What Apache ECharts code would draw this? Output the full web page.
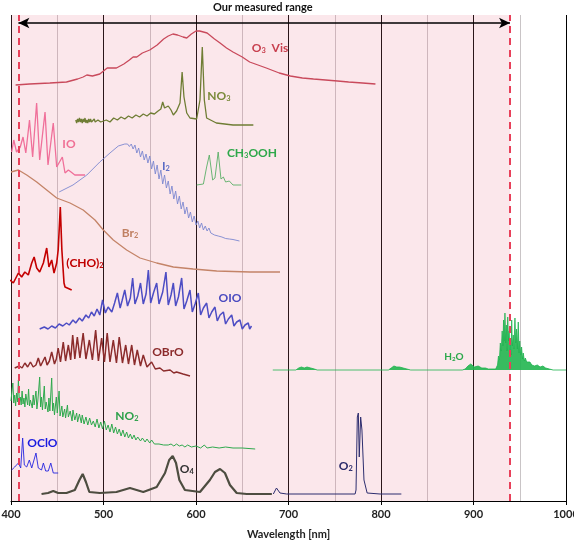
<!DOCTYPE html>
<html>
<head>
<meta charset="utf-8">
<script src="https://cdn.jsdelivr.net/npm/echarts@6/dist/echarts.min.js"></script>
<style>
  html, body { margin: 0; padding: 0; background: #fff; }
  #chart { width: 574px; height: 540px; }
</style>
</head>
<body>
<div id="chart"></div>
<script>
// wavelength ticks (nm) and the measured range
const xTicks = [400, 500, 600, 700, 800, 900, 1000];
const measuredRange = [408, 939.5];

// spectra, [wavelength nm, offset cross-section (a.u.)]
const o3Vis = [[405,416],[420,417],[442,418],[460,419],[472,422],[478,424],[482,426],[488,425],[496,427],[500,430],[504,433],[510,433],[514,433],[522,437],[528,441],[532,444],[536,444],[542,448],[550,451],[558,456],[565,462],[570,465],[575,467],[580,466],[586,464],[590,463],[595,467],[600,470],[604,470],[608,469],[612,468],[620,462],[626,458],[633,453],[640,449],[650,444],[658,439],[667,436],[676,433],[690,428],[702,425],[715,423],[727,422],[740,421],[753,420],[765,419],[780,418],[794,417]];
const no3 = [[470,381],[471,378],[472,382],[473,379],[474,383],[475,379],[476,382],[477,378],[478,382],[479,379],[480,383],[481,378],[482,381],[483,378],[484,382],[485,379],[486,382],[487,379],[488,381],[489,378],[490,382],[491,379],[492,381],[493,378],[494,381],[495,379],[496,381],[497,379],[499,380],[503,381],[507,379],[511,383],[515,381],[519,384],[523,382],[527,385],[531,383],[535,386],[539,384],[543,387],[547,385],[551,388],[555,387],[559,390],[562,392],[564,399],[566,393],[567.5,391],[570,395],[573,391],[575.5,386],[579,390],[582.7,398],[585,429],[587,404],[590,388],[593.5,383],[600.7,382],[604.3,401],[606.8,454],[609,401],[611.5,383],[622,378],[640,376],[662,376]];
const io = [[400.7,349],[403,361],[406,349],[410,354],[413,364],[416,348],[420,381],[423.4,344],[427.7,398],[431,341],[436.8,389],[440,336],[445.7,378],[449.4,334],[455.5,344],[458.4,328],[462,331],[464.9,329],[469,326],[480,326]];
const i2 = [[452,309],[467,316],[482,326],[496,339],[507,348],[516,355],[523,357],[526,357],[528,354.5],[530,357],[532,352],[534,356],[536,348],[538,353],[540,344],[542,350],[544,341],[546,347],[548,338],[550,345],[552,332],[554,340],[556,327],[558,336],[560,322],[562,331],[564,317],[566,326],[568,313],[570,320],[572,307],[574,315],[576,302],[578,310],[580,297],[582,305],[584,292],[586,299],[588,287],[590,294],[592,283],[594,289],[596,279],[598,285],[600,276],[602,280],[604,273],[606,278],[608,271],[610,275],[612,270],[614,273],[616,268],[618,270],[620,266],[622,268],[624,265],[626,266.5],[628,264],[630,265],[632,262.5],[634,263.5],[636,262],[640,261.5],[647,260]];
const ch3ooh = [[600.7,316],[608,317],[611.5,334],[614.4,346],[618,321],[620.5,323],[624,349],[627,322],[629.6,324],[632,319],[636,320],[640,316],[649,316]];
const br2 = [[400,329],[408,331],[417,326],[427.8,319],[438.6,311],[449.4,303],[463.8,298],[478,291],[490.8,281],[499.8,271],[510.6,261],[525,251],[539.5,243],[557.5,238],[575.5,234],[597,232],[622.4,230],[658.4,229],[690.8,229]];
const cho2 = [[399,221],[402.5,218],[408,228],[411.5,224],[415,229],[418.7,226],[422.4,238],[425,244],[427.8,233],[431,229],[435,238],[438.6,253],[441,234],[444,241],[446.5,228],[449.4,238],[451,251],[453.3,294],[455,251],[457.3,218],[458.4,214],[465.6,211]];
const oio = [[431,172],[436,174],[440,172],[444,175],[448,173],[452,177],[456,175],[460,178],[463,176],[467,181],[470,178],[474,183],[477,180],[481,186],[484,183],[487,189],[490,185],[493,192],[496,186],[499,201],[502,188],[505,194],[507,196],[509,189],[512,198],[515,208],[518,193],[520,200],[523,211],[526,195],[529,203],[531.5,223],[534,197],[537,205],[540,218],[543,197],[546,207],[548.5,231],[551,198],[554,208],[557.5,218],[560,197],[564,209],[567.5,229],[570,196],[573,206],[575.5,218],[578,195],[581,204],[584.5,223],[587,192],[590,200],[593.5,211],[596,189],[599,197],[602.5,208],[605,186],[608,193],[611.5,198],[614,183],[617,189],[620.5,194],[623,180],[626,186],[629.6,189],[632,177],[635,182],[638.6,186],[641,175],[644,179],[647.5,181],[650,172],[653,176],[656.5,178],[658,172],[660,175]];
const obro = [[404,133],[409,135],[412,133],[415,138],[418,134],[421,139],[424,134],[427,136],[429.5,143],[432,135],[434,137],[436.8,144],[439,136],[441.5,140],[444,149],[447,137],[449,142],[451,153],[453.5,139],[456.5,159],[459,140],[462,156],[464.5,141],[466.7,166],[469,142],[471.7,164],[474.5,143],[478,168],[481,142],[484.7,161],[488,141],[491.5,171],[494.5,140],[498,163],[501,139],[504,168],[507,139],[510.6,161],[514,138],[517,164],[520.5,138],[524,156],[527,137],[530.5,156],[533.5,136],[536.5,151],[540,135],[543,146],[547,134],[552,139],[556,132],[561,133],[565,130],[572,131],[576,128],[579,129],[586,127],[593.5,125]];
const no2 = [[400,100],[401,110],[402,118],[403,98],[404,106],[405,95],[406,108],[407,99],[408,121],[409,100],[410,104],[411,96],[412,110],[413,97],[414,103],[415,94],[416,107],[418,96],[419,112],[420,95],[421,101],[423,93],[424,106],[425,96],[427,110],[428,92],[429,100],[431,124],[432,94],[433,104],[434,91],[436,115],[437,92],[438,99],[440,89],[441,103],[442,90],[444,123],[445,90],[446,98],[447,86],[449,104],[450,88],[452,110],[453,85],[455,95],[456,84],[458,92],[459,83],[461,96],[462,84],[464,90],[466,80],[467,91],[469,81],[471,88],[472,79],[474,87],[476,78],[477,86],[479,77],[481,84],[483,76],[485,83],[487,76],[489,80],[491,74],[493,82],[495,73],[497,79],[499,72],[501,80],[503,71],[505,76],[507,69],[509,77],[511,68],[513,74],[515,67],[517,72],[519,65],[521,71],[523,64],[525,69],[527,63],[529,67],[531,62],[533,66],[535,61],[537,64],[540,60],[542,63],[545,59],[547,62],[550,58],[552,61],[555,57],[557,59],[560,57],[562,59],[565,56],[567,58],[570,56],[573,57],[576,55],[579,57],[582,55],[585,56],[588,54],[591,56],[595,54],[600,55],[605,53],[609,56],[612,53],[618,54],[625,53],[632,54],[640,53],[650,53],[664,52]];
const oclo = [[400.7,31],[404,34],[408,38],[410.5,33],[412.6,63],[414.4,36],[417,34],[419.8,41],[422.4,33],[427,48],[429.5,33],[433,31],[435,38],[437.5,30],[440.3,30],[443,38],[445.7,28],[451,28]];
const o4 = [[433,7],[440,8],[445.7,10],[451,8],[460,8],[469,11],[474,21],[477.5,27],[481,19],[484.7,9],[496,8],[514,9],[528.6,13],[543,9],[557.5,14],[566.5,28],[571,41],[574.8,45],[578.4,38],[582,21],[588,11],[604.3,9],[615,21],[620.5,29],[626,32],[631.3,28],[636.7,16],[644,8],[654.8,7],[682,7]];
const o2 = [[683.6,7],[687,13],[690.8,8],[698,7],[772,7],[773,11],[774.4,84],[775.5,88],[776.5,44],[778,84],[779.4,71],[781.6,21],[785,8],[799,7],[822,7]];
const h2o = [[683,131],[700,131],[708,131],[711,133],[714,134],[717,133],[720,134],[724,133],[728,132],[731,131],[800,131],[808,131],[811,133],[814,135],[817,134],[820,134],[824,133],[828,132],[832,131],[888,131],[891,132],[894,135],[897,137],[899,138],[901,134],[903,133],[905,135],[907,134],[909,133],[911,134],[913,133],[916,132],[920,132],[924,132],[926,136],[927,145],[928,141],[929,158],[930,150],[931,170],[931.8,155],[932.5,181],[933.2,160],[934,188],[934.8,158],[935.5,176],[936.2,150],[937,184],[937.8,160],[938.5,170],[939.3,148],[940,158],[940.7,146],[941.3,181],[942,155],[943,166],[943.8,152],[944.8,183],[945.6,158],[946.6,172],[947.4,152],[948.4,179],[949.3,148],[950,160],[951,146],[952,154],[953,142],[953.8,148],[955,140],[956,143],[957.5,139],[959,137],[961,139],[963,136],[966,135],[969,136],[972,134],[975,135],[978,133],[982,132],[986,131],[1000,131]];

const font = 'Lato, "Open Sans", sans-serif';

// species label: [text, subscript, rest], placed at a data coordinate
function tag(coord, color, parts, size) {
  size = size || 12;
  let fmt = '{a|' + parts[0] + '}';
  if (parts[1]) fmt += '{s|' + parts[1] + '}';
  if (parts[2]) fmt += '{a|' + parts[2] + '}';
  return {
    symbol: 'circle',
    symbolSize: 1,
    itemStyle: { color: 'transparent' },
    label: {
      show: true,
      position: 'inside',
      formatter: fmt,
      rich: {
        a: { fontFamily: font, fontWeight: 'bold', fontSize: size, color: color },
        s: { fontFamily: font, fontWeight: 'bold', fontSize: size * 0.62, color: color, padding: [size * 0.5, 0, 0, 0] }
      }
    },
    data: [{ coord: coord }]
  };
}

function spec(name, data, color, width, label) {
  return {
    name: name,
    type: 'line',
    data: data,
    showSymbol: false,
    smooth: false,
    z: 3,
    lineStyle: { color: color, width: width },
    markPoint: label
  };
}

let myChart = echarts.init(document.getElementById('chart'));
myChart.setOption({
  animation: false,
  grid: { left: 11, right: 8, top: 15, bottom: 39, outerBoundsMode: 'none', containLabel: false },
  graphic: [{
    type: 'text',
    left: 265 - 52,
    top: 2,
    style: { text: 'Our measured range', font: 'bold 11px ' + font, fill: '#111' }
  }],
  xAxis: {
    type: 'value',
    min: 400,
    max: 1000,
    interval: 100,
    name: 'Wavelength [nm]',
    nameLocation: 'middle',
    nameGap: 28,
    nameTextStyle: { fontFamily: font, fontWeight: 'bold', fontSize: 11, color: '#222' },
    axisLine: { lineStyle: { color: '#000', width: 1 } },
    axisTick: { show: true, length: 4, lineStyle: { color: '#000' } },
    axisLabel: {
      fontFamily: font, fontWeight: 'bold', fontSize: 11, color: '#222', margin: 8,
      formatter: v => xTicks.includes(v) ? String(v) : ''
    },
    splitLine: { show: true, lineStyle: { color: '#000', width: 1 } },
    minorTick: { show: false, splitNumber: 2 },
    minorSplitLine: { show: true, lineStyle: { color: '#c9c4c6', width: 1 } }
  },
  yAxis: {
    type: 'value',
    min: 0,
    max: 486,
    show: false,
    splitLine: { show: false }
  },
  series: [
    {
      name: 'range',
      type: 'line',
      data: [],
      z: 1,
      markArea: {
        silent: true,
        itemStyle: { color: 'rgba(232,120,145,0.18)' },
        data: [[{ xAxis: 400 }, { xAxis: measuredRange[1] }]]
      }
    },
    {
      name: 'range lines',
      type: 'line',
      data: [],
      z: 4,
      markLine: {
        silent: true,
        symbol: ['none', 'none'],
        label: { show: false },
        lineStyle: { color: '#e8405a', width: 2, type: [7, 5] },
        data: [{ xAxis: measuredRange[0] }, { xAxis: measuredRange[1] }]
      }
    },
    {
      name: 'arrow',
      type: 'line',
      data: [],
      z: 5,
      markLine: {
        silent: true,
        symbol: ['arrow', 'arrow'],
        symbolSize: [8, 11],
        label: { show: false },
        lineStyle: { color: '#000', width: 1.5, type: 'solid' },
        data: [[{ coord: [measuredRange[0], 478] }, { coord: [measuredRange[1], 478] }]]
      }
    },
    spec('O3 Vis', o3Vis, '#c94a5c', 1.3, tag([680, 453], '#c8404f', ['O', '3', '  Vis'])),
    spec('NO3', no3, '#6f7d34', 1.3, tag([624.8, 405], '#7a8a3a', ['NO', '3'])),
    spec('IO', io, '#f0709a', 1.3, tag([462.7, 357], '#f07095', ['IO'])),
    spec('I2', i2, '#7d88d0', 0.9, tag([567.5, 335], '#5a6ac4', ['I', '2'])),
    spec('CH3OOH', ch3ooh, '#5aaf66', 0.9, tag([660.5, 348], '#2ea84a', ['CH', '3', 'OOH'])),
    spec('Br2', br2, '#c48468', 1.3, tag([528.6, 268], '#c08062', ['Br', '2'])),
    spec('(CHO)2', cho2, '#c40000', 1.6, tag([480, 238], '#c00000', ['(CHO)', '2'])),
    spec('OIO', oio, '#4d4dc4', 1.5, tag([636.7, 203], '#4a4ac0', ['OIO'])),
    spec('OBrO', obro, '#8c2c2c', 1.5, tag([569.7, 149], '#8b2a2a', ['OBrO'])),
    spec('NO2', no2, '#2ea84c', 1, tag([525.4, 85], '#2ca04a', ['NO', '2'])),
    spec('OClO', oclo, '#2424e0', 0.9, tag([434, 58], '#1a1ae0', ['OClO'])),
    spec('O4', o4, '#4d4d40', 2.2, tag([590, 32], '#333', ['O', '4'])),
    spec('O2', o2, '#2d2d6e', 1, tag([762, 35], '#2a2a6a', ['O', '2'])),
    Object.assign(spec('H2O', h2o, '#1fb34f', 0.8, tag([878.9, 144], '#2aa84a', ['H', '2', 'O'], 10)), {
      areaStyle: { color: '#22b650', origin: 131, opacity: 0.9 }
    })
  ]
});
</script>
</body>
</html>
